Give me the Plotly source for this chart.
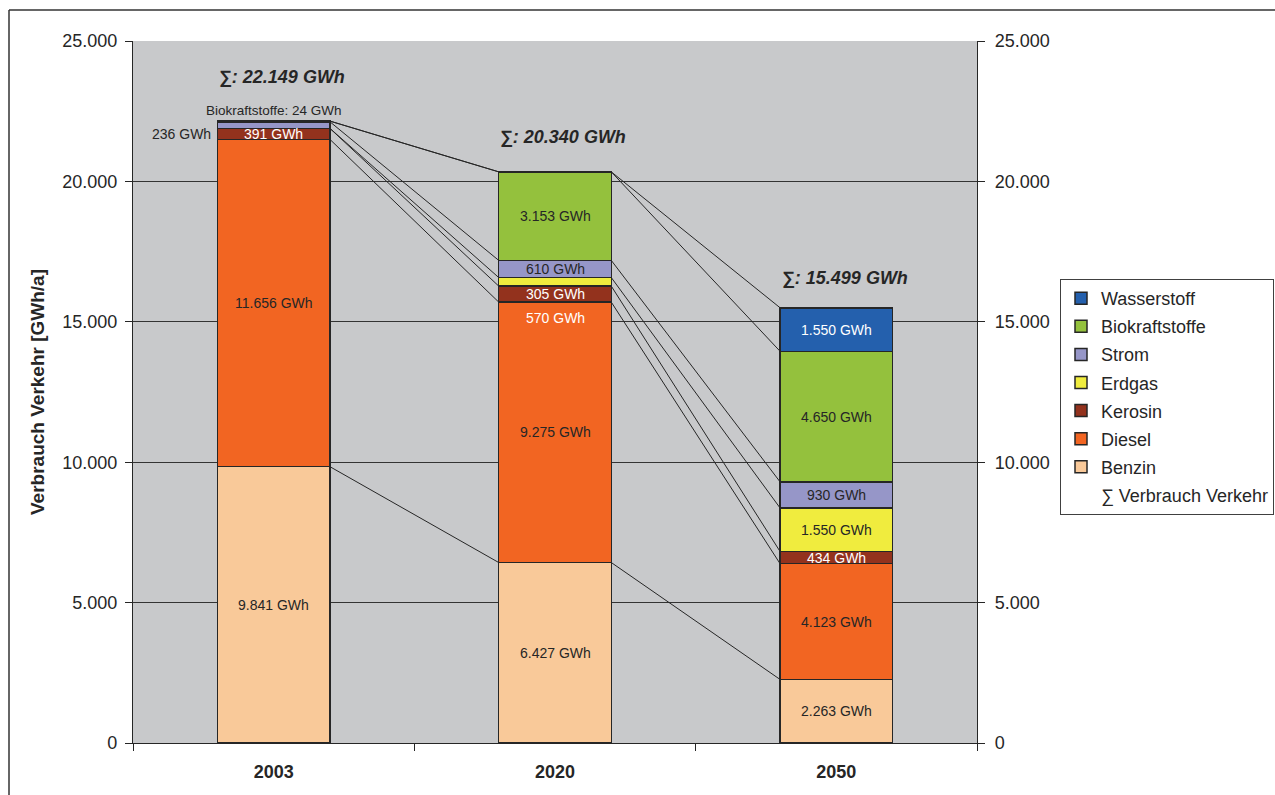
import plotly.graph_objects as go

# Endenergieverbrauch im Verkehr nach Energieträger [GWh/a]
years = ["2003", "2020", "2050"]
benzin = [9841, 6427, 2263]
diesel = [11656, 9275, 4123]
kerosin = [391, 570, 434]
erdgas = [0, 305, 1550]
strom = [236, 610, 930]
biokraftstoffe = [24, 3153, 4650]
wasserstoff = [0, 0, 1550]
summe = [22149, 20340, 15499]

y_tickvals = [0, 5000, 10000, 15000, 20000, 25000]
y_ticktext = ["0", "5.000", "10.000", "15.000", "20.000", "25.000"]

series = [
    ("Benzin", benzin, "#F9C999"),
    ("Diesel", diesel, "#F26522"),
    ("Kerosin", kerosin, "#93321D"),
    ("Erdgas", erdgas, "#F0EC3E"),
    ("Strom", strom, "#9696C8"),
    ("Biokraftstoffe", biokraftstoffe, "#94C13D"),
    ("Wasserstoff", wasserstoff, "#2460AD"),
]
# white value text on the dark segments
light_text = {"Kerosin", "Wasserstoff"}

FONT = "Liberation Sans, Arial, sans-serif"
BAR_W = 0.4
xs = list(range(len(years)))


def gwh(v):
    return f"{v:,}".replace(",", ".") + " GWh"


fig = go.Figure()

# cumulative bottoms/tops of each stacked segment
bottoms, tops = {}, {}
running = [0] * len(years)
for name, vals, col in series:
    bottoms[name] = running[:]
    running = [r + v for r, v in zip(running, vals)]
    tops[name] = running[:]

# Excel-style series lines linking the segment tops of neighbouring columns
for name, vals, col in series:
    lx, ly = [], []
    for i in range(len(years) - 1):
        lx += [xs[i] + BAR_W / 2, xs[i + 1] - BAR_W / 2, None]
        ly += [tops[name][i], tops[name][i + 1], None]
    fig.add_trace(go.Scatter(
        x=lx, y=ly, mode="lines", line=dict(color="#262626", width=1),
        showlegend=False, hoverinfo="skip"))

n = len(series)
for k, (name, vals, col) in enumerate(series):
    fig.add_trace(go.Bar(
        x=xs, y=vals, name=name, width=BAR_W,
        marker=dict(color=col, line=dict(color="#262626", width=1.5)),
        legendgroup=name, legendrank=n - k))

# invisible total series, listed last in the legend
fig.add_trace(go.Scatter(
    x=xs, y=summe, mode="lines", name="∑ Verbrauch Verkehr",
    line=dict(color="rgba(0,0,0,0)", width=0),
    legendgroup="summe", legendrank=n + 1, hoverinfo="skip"))

annotations = []


def seg_label(x, y, text, color, xanchor="center", xshift=0):
    annotations.append(dict(
        x=x, y=y, xref="x", yref="y", text=text, showarrow=False,
        xanchor=xanchor, xshift=xshift, yanchor="middle",
        font=dict(family=FONT, size=14, color=color)))


for name, vals, col in series:
    for i, v in enumerate(vals):
        if v == 0:
            continue
        color = "white" if name in light_text else "#262626"
        mid = bottoms[name][i] + v / 2
        if i == 0 and name == "Strom":
            # small Strom slice, labelled to the left of the column
            seg_label(xs[i] - BAR_W / 2, bottoms["Kerosin"][i] + kerosin[i] / 2,
                      gwh(v), "#262626", xanchor="right", xshift=-4)
        elif i == 0 and name == "Biokraftstoffe":
            annotations.append(dict(
                x=xs[i], y=tops[name][i], xref="x", yref="y",
                text="Biokraftstoffe: " + gwh(v), showarrow=False,
                yanchor="bottom", yshift=1,
                font=dict(family=FONT, size=13.5, color="#262626")))
        elif i == 1 and name == "Erdgas":
            # thin Erdgas band: value written on the Kerosin band below
            seg_label(xs[i], bottoms["Kerosin"][i] + kerosin[i] / 2,
                      gwh(v), "white")
        elif i == 1 and name == "Kerosin":
            seg_label(xs[i], bottoms["Kerosin"][i] - 560, gwh(v), "white")
        else:
            seg_label(xs[i], mid, gwh(v), color)

# totals above the columns
sum_label_lift = [1570, 1240, 1060]
for i, s in enumerate(summe):
    annotations.append(dict(
        x=xs[i] + 0.03, y=s + sum_label_lift[i], xref="x", yref="y",
        text="<b><i>∑: " + f"{s:,}".replace(",", ".") + " GWh</i></b>",
        showarrow=False, yanchor="middle",
        font=dict(family=FONT, size=18, color="#262626")))

# outer frame (left and top edges)
L, R, T, B = 133, 298, 41, 52
W, H = 1275, 795
pw, ph = W - L - R, H - T - B


def px_x(p):
    return (p - L) / pw


def px_y(p):
    return (H - B - p) / ph


shapes = [
    dict(type="line", xref="paper", yref="paper", x0=px_x(9), x1=px_x(9),
         y0=px_y(10), y1=px_y(800), line=dict(color="#333333", width=1.5)),
    dict(type="line", xref="paper", yref="paper", x0=px_x(9), x1=px_x(1280),
         y0=px_y(10), y1=px_y(10), line=dict(color="#333333", width=1.5)),
]

axis_common = dict(
    range=[0, 25000], tickmode="array", tickvals=y_tickvals, ticktext=y_ticktext,
    ticks="outside", ticklen=7, tickcolor="#262626", showline=True,
    linecolor="#262626", linewidth=1.2,
    tickfont=dict(family=FONT, size=18, color="#262626"))

fig.update_layout(
    width=W, height=H, margin=dict(l=L, r=R, t=T, b=B, pad=0, autoexpand=False),
    paper_bgcolor="white", plot_bgcolor="#C8C9CB",
    barmode="stack", bargap=0.6, showlegend=True,
    font=dict(family=FONT, color="#262626"),
    xaxis=dict(
        range=[-0.5, 2.5], tickmode="array", tickvals=xs,
        ticktext=["<b>" + y + "</b>" for y in years],
        ticks="", showgrid=False, showline=True, linecolor="#262626",
        linewidth=1.2, zeroline=False, ticklabelstandoff=12,
        tickfont=dict(family=FONT, size=18, color="#262626"),
        minor=dict(tickmode="array", tickvals=[-0.5, 0.5, 1.5, 2.5],
                   ticks="outside", ticklen=7, tickcolor="#262626",
                   showgrid=False)),
    yaxis=dict(
        **axis_common, showgrid=True, gridcolor="#333333", gridwidth=1,
        zeroline=False, ticklabelstandoff=4,
        title=dict(text="<b>Verbrauch Verkehr [GWh/a]</b>", standoff=12,
                   font=dict(family=FONT, size=19, color="#262626"))),
    yaxis2=dict(
        **axis_common, overlaying="y", side="right", showgrid=False,
        zeroline=False, ticklabelstandoff=6),
    legend=dict(
        xref="container", yref="container",
        x=1060 / W, y=1 - 279 / H, xanchor="left", yanchor="top",
        bgcolor="white", bordercolor="#404040", borderwidth=1,
        traceorder="grouped", tracegroupgap=1.7, itemwidth=30,
        font=dict(family=FONT, size=18, color="#262626")),
    annotations=annotations, shapes=shapes,
)

# attach an invisible trace to the right axis so it is rendered
fig.add_trace(go.Scatter(x=[xs[0]], y=[0], yaxis="y2", mode="markers",
                         marker=dict(opacity=0), showlegend=False,
                         hoverinfo="skip"))

fig.write_html("out.html")
